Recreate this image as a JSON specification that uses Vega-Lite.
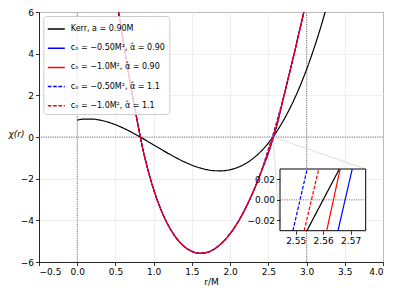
{
  "$schema": "https://vega.github.io/schema/vega-lite/v6.json",
  "width": 344,
  "height": 250,
  "autosize": {"type": "none"},
  "padding": {"left": 39, "top": 12, "right": 16, "bottom": 37},
  "background": "white",
  "config": {
    "font": "DejaVu Sans",
    "view": {"stroke": "black", "strokeWidth": 1},
    "axis": {"labelFontSize": 9, "labelColor": "black", "domainColor": "black", "domainWidth": 0.8, "tickColor": "black", "tickWidth": 0.8, "tickSize": 3.5, "labelPadding": 2, "gridColor": "#ebebeb", "gridWidth": 0.8, "titleFontWeight": "normal", "titleFontSize": 9, "titleColor": "black"},
    "legend": {"fillColor": "rgba(255,255,255,0.8)", "strokeColor": "#cccccc", "cornerRadius": 3, "padding": 3.5, "labelFontSize": 8, "labelColor": "black", "symbolType": "stroke", "symbolSize": 289, "symbolStrokeWidth": 1.5, "rowPadding": 5.2, "labelOffset": 5, "labelLimit": 300}
  },
  "datasets": {
    "vrules": [{"r": 0, "v": -6, "v2": 6}, {"r": 3, "v": -6, "v2": 6}],
    "hrules": [{"r": -0.5, "r2": 4, "v": 0}],
    "conn": [{"r": 2.56, "v": 0, "r2": 3.774, "v2": -1.536}, {"r": 2.56, "v": 0, "r2": 2.653, "v2": -4.498}],
    "kerr": [
      {"r": 0, "v": 0.81, "s": "k"}, {"r": 0.1, "v": 0.862, "s": "k"}, {"r": 0.2, "v": 0.86, "s": "k"}, {"r": 0.3, "v": 0.81, "s": "k"},
      {"r": 0.4, "v": 0.718, "s": "k"}, {"r": 0.5, "v": 0.59, "s": "k"}, {"r": 0.6, "v": 0.432, "s": "k"}, {"r": 0.7, "v": 0.25, "s": "k"},
      {"r": 0.8, "v": 0.05, "s": "k"}, {"r": 0.9, "v": -0.162, "s": "k"}, {"r": 1.0, "v": -0.38, "s": "k"}, {"r": 1.1, "v": -0.598, "s": "k"},
      {"r": 1.2, "v": -0.81, "s": "k"}, {"r": 1.3, "v": -1.01, "s": "k"}, {"r": 1.4, "v": -1.192, "s": "k"}, {"r": 1.5, "v": -1.35, "s": "k"},
      {"r": 1.6, "v": -1.478, "s": "k"}, {"r": 1.7, "v": -1.57, "s": "k"}, {"r": 1.8, "v": -1.62, "s": "k"}, {"r": 1.9, "v": -1.622, "s": "k"},
      {"r": 2.0, "v": -1.57, "s": "k"}, {"r": 2.1, "v": -1.458, "s": "k"}, {"r": 2.2, "v": -1.28, "s": "k"}, {"r": 2.3, "v": -1.03, "s": "k"},
      {"r": 2.4, "v": -0.702, "s": "k"}, {"r": 2.5, "v": -0.29, "s": "k"}, {"r": 2.6, "v": 0.212, "s": "k"}, {"r": 2.7, "v": 0.81, "s": "k"},
      {"r": 2.8, "v": 1.51, "s": "k"}, {"r": 2.9, "v": 2.318, "s": "k"}, {"r": 3.0, "v": 3.24, "s": "k"}, {"r": 3.1, "v": 4.282, "s": "k"},
      {"r": 3.2, "v": 5.45, "s": "k"}, {"r": 3.25, "v": 6.083, "s": "k"}
    ],
    "mod": [
      {"r": 0.52, "b1": 6.47, "r1": 6.47, "b2": 6.47, "r2": 6.47},
      {"r": 0.55, "b1": 5.77, "r1": 5.77, "b2": 5.77, "r2": 5.77},
      {"r": 0.6, "b1": 4.63, "r1": 4.63, "b2": 4.63, "r2": 4.63},
      {"r": 0.65, "b1": 3.53, "r1": 3.53, "b2": 3.53, "r2": 3.53},
      {"r": 0.7, "b1": 2.47, "r1": 2.47, "b2": 2.47, "r2": 2.47},
      {"r": 0.75, "b1": 1.45, "r1": 1.45, "b2": 1.45, "r2": 1.45},
      {"r": 0.8, "b1": 0.47, "r1": 0.47, "b2": 0.47, "r2": 0.47},
      {"r": 0.825, "b1": 0, "r1": 0, "b2": 0, "r2": 0},
      {"r": 0.85, "b1": -0.44, "r1": -0.44, "b2": -0.44, "r2": -0.44},
      {"r": 0.9, "b1": -1.22, "r1": -1.22, "b2": -1.22, "r2": -1.22},
      {"r": 0.95, "b1": -1.91, "r1": -1.91, "b2": -1.91, "r2": -1.91},
      {"r": 1.0, "b1": -2.52, "r1": -2.52, "b2": -2.52, "r2": -2.52},
      {"r": 1.1, "b1": -3.53, "r1": -3.53, "b2": -3.53, "r2": -3.53},
      {"r": 1.2, "b1": -4.3, "r1": -4.3, "b2": -4.3, "r2": -4.3},
      {"r": 1.3, "b1": -4.87, "r1": -4.87, "b2": -4.87, "r2": -4.87},
      {"r": 1.4, "b1": -5.26, "r1": -5.26, "b2": -5.26, "r2": -5.26},
      {"r": 1.5, "b1": -5.49, "r1": -5.49, "b2": -5.49, "r2": -5.49},
      {"r": 1.6, "b1": -5.58, "r1": -5.58, "b2": -5.58, "r2": -5.58},
      {"r": 1.7, "b1": -5.54, "r1": -5.54, "b2": -5.54, "r2": -5.54},
      {"r": 1.8, "b1": -5.36, "r1": -5.36, "b2": -5.36, "r2": -5.36},
      {"r": 1.9, "b1": -5.06, "r1": -5.06, "b2": -5.06, "r2": -5.06},
      {"r": 2.0, "b1": -4.64, "r1": -4.64, "b2": -4.64, "r2": -4.64},
      {"r": 2.1, "b1": -4.1, "r1": -4.1, "b2": -4.1, "r2": -4.1},
      {"r": 2.2, "b1": -3.43, "r1": -3.43, "b2": -3.43, "r2": -3.43},
      {"r": 2.3, "b1": -2.64, "r1": -2.64, "b2": -2.64, "r2": -2.64},
      {"r": 2.4, "b1": -1.73, "r1": -1.73, "b2": -1.73, "r2": -1.73},
      {"r": 2.5, "b1": -0.79, "r1": -0.73, "b2": -0.59, "r2": -0.64},
      {"r": 2.56, "b1": -0.096, "r1": -0.044, "b2": 0.1, "r2": 0.05},
      {"r": 2.62, "b1": 0.66, "r1": 0.71, "b2": 0.86, "r2": 0.81},
      {"r": 2.7, "b1": 1.92, "r1": 1.92, "b2": 1.92, "r2": 1.92},
      {"r": 2.78, "b1": 3.12, "r1": 3.12, "b2": 3.12, "r2": 3.12},
      {"r": 2.84, "b1": 4.03, "r1": 4.03, "b2": 4.03, "r2": 4.03},
      {"r": 2.9, "b1": 4.98, "r1": 4.98, "b2": 4.98, "r2": 4.98},
      {"r": 2.97, "b1": 6.08, "r1": 6.08, "b2": 6.08, "r2": 6.08},
      {"r": 3.0, "b1": 6.55, "r1": 6.55, "b2": 6.55, "r2": 6.55}
    ],
    "ibox": [{"r": 2.5443, "r2": 2.5755, "v": -0.03, "v2": 0.03}],
    "izero": [{"r": 2.5443, "r2": 2.5755, "v": 0}],
    "ilines": [
      {"s": "k", "r": 2.5541, "v": -0.03}, {"s": "k", "r": 2.5659, "v": 0.03},
      {"s": "b1", "r": 2.5654, "v": -0.03}, {"s": "b1", "r": 2.5706, "v": 0.03},
      {"s": "r1", "r": 2.5613, "v": -0.03}, {"s": "r1", "r": 2.5662, "v": 0.03},
      {"s": "b2", "r": 2.549, "v": -0.03}, {"s": "b2", "r": 2.5542, "v": 0.03},
      {"s": "r2", "r": 2.5531, "v": -0.03}, {"s": "r2", "r": 2.5584, "v": 0.03}
    ]
  },
  "layer": [
    {
      "encoding": {
        "x": {"field": "r", "type": "quantitative", "scale": {"domain": [-0.5, 4], "nice": false, "zero": false}, "axis": {"values": [-0.5, 0, 0.5, 1, 1.5, 2, 2.5, 3, 3.5, 4], "format": ".1f", "title": "r/M", "titlePadding": 1, "grid": true}},
        "y": {"field": "v", "type": "quantitative", "scale": {"domain": [-6, 6], "nice": false, "zero": false}, "axis": {"values": [-6, -4, -2, 0, 2, 4, 6], "format": "d", "title": "χ(r)", "titleAngle": 0, "titleAlign": "center", "titleBaseline": "middle", "titleX": -23, "titleY": 121, "titleFontStyle": "italic", "grid": true}}
      },
      "layer": [
        {"data": {"name": "vrules"}, "mark": {"type": "rule", "color": "#444444", "strokeWidth": 0.8, "strokeDash": [1, 1.3]}, "encoding": {"y2": {"field": "v2"}}},
        {"data": {"name": "hrules"}, "mark": {"type": "rule", "color": "#444444", "strokeWidth": 0.8, "strokeDash": [1, 1.3]}, "encoding": {"x2": {"field": "r2"}}},
        {"data": {"name": "conn"}, "mark": {"type": "rule", "color": "#d4d4d4", "strokeWidth": 0.8}, "encoding": {"x2": {"field": "r2"}, "y2": {"field": "v2"}}},
        {"data": {"name": "kerr"}, "mark": {"type": "line", "strokeWidth": 1.2, "interpolate": "monotone", "clip": true},
          "encoding": {
            "color": {"field": "s", "type": "nominal", "scale": {"domain": ["k", "b1", "r1", "b2", "r2"], "range": ["black", "#0000ff", "#ff0000", "#0000ff", "#ff0000"]}, "legend": {"title": null, "orient": "none", "legendX": 4.3, "legendY": 4, "labelExpr": "datum.value=='k'?'Kerr, a = 0.90M':datum.value=='b1'?'cₒ = −0.50M², α̂ = 0.90':datum.value=='r1'?'cₒ = −1.0M², α̂ = 0.90':datum.value=='b2'?'cₒ = −0.50M², α̂ = 1.1':'cₒ = −1.0M², α̂ = 1.1'"}},
            "strokeDash": {"field": "s", "type": "nominal", "scale": {"domain": ["k", "b1", "r1", "b2", "r2"], "range": [[1, 0], [1, 0], [1, 0], [3.7, 1.6], [3.7, 1.6]]}, "legend": {"title": null, "orient": "none", "legendX": 4.3, "legendY": 4, "labelExpr": "datum.value=='k'?'Kerr, a = 0.90M':datum.value=='b1'?'cₒ = −0.50M², α̂ = 0.90':datum.value=='r1'?'cₒ = −1.0M², α̂ = 0.90':datum.value=='b2'?'cₒ = −0.50M², α̂ = 1.1':'cₒ = −1.0M², α̂ = 1.1'"}}
          }},
        {"data": {"name": "mod"}, "transform": [{"fold": ["b1", "r1", "b2", "r2"], "as": ["s", "v"]}], "mark": {"type": "line", "strokeWidth": 1.2, "interpolate": "monotone", "clip": true},
          "encoding": {
            "color": {"field": "s", "type": "nominal", "scale": {"domain": ["k", "b1", "r1", "b2", "r2"], "range": ["black", "#0000ff", "#ff0000", "#0000ff", "#ff0000"]}},
            "strokeDash": {"field": "s", "type": "nominal", "scale": {"domain": ["k", "b1", "r1", "b2", "r2"], "range": [[1, 0], [1, 0], [1, 0], [3.7, 1.6], [3.7, 1.6]]}}
          }}
      ]
    },
    {
      "encoding": {
        "x": {"field": "r", "type": "quantitative", "scale": {"domain": [2.5443, 2.5755], "range": [241, 326.7], "nice": false, "zero": false}, "axis": {"orient": "bottom", "offset": -31.3, "values": [2.55, 2.56, 2.57], "format": ".2f", "title": null, "grid": false, "domain": false, "zindex": 1}},
        "y": {"field": "v", "type": "quantitative", "scale": {"domain": [-0.03, 0.03], "range": [218.7, 157], "nice": false, "zero": false}, "axis": {"orient": "left", "offset": -241, "values": [-0.02, 0, 0.02], "format": ".2f", "title": null, "grid": false, "domain": false, "zindex": 1}}
      },
      "layer": [
        {"data": {"name": "ibox"}, "mark": {"type": "rect", "fill": "white", "stroke": "black", "strokeWidth": 1}, "encoding": {"x2": {"field": "r2"}, "y2": {"field": "v2"}}},
        {"data": {"name": "izero"}, "mark": {"type": "rule", "color": "#444444", "strokeWidth": 0.8, "strokeDash": [1, 1.3]}, "encoding": {"x2": {"field": "r2"}}},
        {"data": {"name": "ilines"}, "mark": {"type": "line", "strokeWidth": 1.2},
          "encoding": {
            "color": {"field": "s", "type": "nominal", "scale": {"domain": ["k", "b1", "r1", "b2", "r2"], "range": ["black", "#0000ff", "#ff0000", "#0000ff", "#ff0000"]}},
            "strokeDash": {"field": "s", "type": "nominal", "scale": {"domain": ["k", "b1", "r1", "b2", "r2"], "range": [[1, 0], [1, 0], [1, 0], [3.7, 1.6], [3.7, 1.6]]}}
          }}
      ]
    }
  ],
  "resolve": {"scale": {"x": "independent", "y": "independent"}, "axis": {"x": "independent", "y": "independent"}}
}
